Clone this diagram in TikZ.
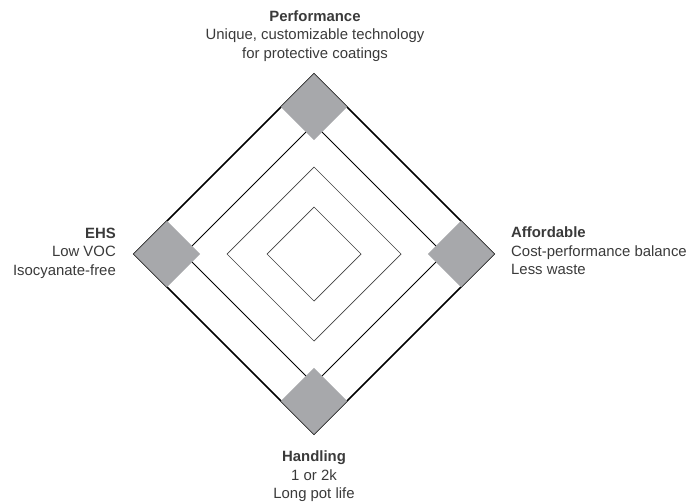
\documentclass[tikz,border=0pt]{standalone}
\usepackage{fontspec}
\setmainfont{Liberation Sans}
\definecolor{tilegray}{HTML}{A7A8AB}
\definecolor{inkgray}{HTML}{3A3A3A}
\begin{document}
\begin{tikzpicture}[x=1pt,y=-1pt,
  ring/.style={draw=black},
  tile/.style={draw=none,fill=tilegray,shape=rectangle,rotate=45,
    minimum size=46.7pt,inner sep=0pt},
  label/.style={inner sep=0pt,text=inkgray,
    font=\fontsize{14.9}{18.5}\selectfont}]
\useasboundingbox (0,0) rectangle (690,503);
\coordinate (c) at (314,254);
% concentric diamonds
\draw[ring,line width=1.6pt] ([yshift=-180pt]c) -- ([xshift=180pt]c) -- ([yshift=180pt]c) -- ([xshift=-180pt]c) -- cycle;
\draw[ring,line width=0.9pt] ([yshift=-130pt]c) -- ([xshift=130pt]c) -- ([yshift=130pt]c) -- ([xshift=-130pt]c) -- cycle;
\draw[ring,draw=black!75,line width=0.7pt] ([yshift=-87pt]c) -- ([xshift=87pt]c) -- ([yshift=87pt]c) -- ([xshift=-87pt]c) -- cycle;
\draw[ring,draw=black!75,line width=0.7pt] ([yshift=-47pt]c) -- ([xshift=47pt]c) -- ([yshift=47pt]c) -- ([xshift=-47pt]c) -- cycle;
% corner tiles
\node[tile] (tN) at (314,107) {};
\node[tile] (tE) at (461,254) {};
\node[tile] (tS) at (314,401) {};
\node[tile] (tW) at (167,254) {};
% labels (anchored at the baseline of their last line)
\node[label,align=center,anchor=base] (lN) at (315,58.5) {{\bfseries Performance}\\Unique, customizable technology\\for protective coatings};
\node[label,align=right,anchor=base east] (lW) at (116,275) {{\bfseries EHS}\\Low VOC\\Isocyanate-free};
\node[label,align=left,anchor=base west] (lE) at (511,274.5) {{\bfseries Affordable}\\Cost-performance balance\\Less waste};
\node[label,align=center,anchor=base] (lS) at (314,498.5) {{\bfseries Handling}\\1 or 2k\\Long pot life};
\end{tikzpicture}
\end{document}
